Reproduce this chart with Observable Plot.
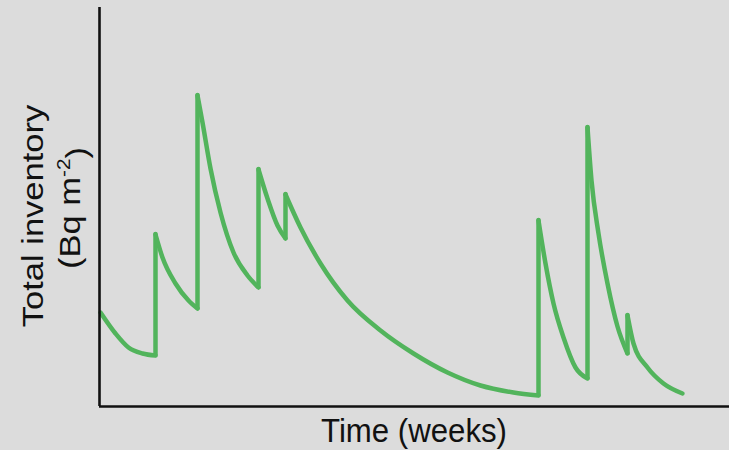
<!DOCTYPE html>
<html>
<head>
<meta charset="utf-8">
<script src="https://cdn.jsdelivr.net/npm/d3@7"></script>
<script src="https://cdn.jsdelivr.net/npm/@observablehq/plot@0.6"></script>
<style>
  html, body { margin: 0; padding: 0; background: #dcdcdc; }
  svg { display: block; }
</style>
</head>
<body>
<div id="chart"></div>
<script>
// Decay segments (time in weeks, inventory in arbitrary Bq m^-2 units)
const segment   = [0,0,0,0,0, 1,1,1,1,1, 2,2,2,2,2,2,2, 3,3,3,3, 4,4,4,4,4,4,4,4,4,4, 5,5,5,5,5,5, 6,6,6,6,6,6, 7,7,7,7,7];
const weeks     = [0.1,1.6,2.9,4.3,5.6, 5.6,6.3,7.6,8.9,9.8, 9.8,10.3,11.1,12.1,13.4,14.8,15.9, 15.9,16.8,17.8,18.6, 18.6,20.1,22.1,24.8,28.1,31.4,34.8,38.1,41.4,43.9, 43.9,44.6,45.4,46.4,47.6,48.8, 48.8,49.2,49.9,50.8,51.8,52.8, 52.8,53.4,54.8,56.4,58.3];
const inventory = [94,73,59,53,51, 172,149,123,106,98, 311,284,238,194,154,131,119, 237,208,181,168, 212,179,143,106,76,53,34,21,14,11, 186,143,103,69,39,28, 279,226,173,123,80,53, 91,63,39,23,13];

// Deposition events (instant jumps)
const jumpWeek = [5.6, 9.8, 15.9, 18.6, 43.9, 48.8, 52.8];
const jumpFrom = [51, 98, 119, 168, 11, 28, 53];
const jumpTo   = [172, 311, 237, 212, 186, 279, 91];

const xLabel = "Time (weeks)";
const yLabel1 = "Total inventory";
const yLabel2 = "(Bq m";
const yLabel2Sup = "-2";

const points = weeks.map((w, i) => ({week: w, value: inventory[i], seg: segment[i]}));
const jumps = jumpWeek.map((w, i) => ({week: w, from: jumpFrom[i], to: jumpTo[i]}));

const green = "#52b45c";

const chart = Plot.plot({
  width: 729,
  height: 450,
  marginLeft: 99,
  marginRight: 0,
  marginTop: 7,
  marginBottom: 44,
  style: {background: "#dcdcdc", fontFamily: "'Liberation Sans', Arial, sans-serif", color: "#111"},
  x: {domain: [0, 63], axis: null},
  y: {domain: [0, 399], axis: null},
  marks: [
    Plot.ruleX(jumps, {x: "week", y1: "from", y2: "to", stroke: green, strokeWidth: 4.5, strokeLinecap: "round"}),
    Plot.line(points, {x: "week", y: "value", z: "seg", curve: "monotone-x", stroke: green, strokeWidth: 4.5, strokeLinecap: "round", strokeLinejoin: "round"}),
    Plot.ruleX([0], {stroke: "#111", strokeWidth: 2.6}),
    Plot.ruleY([0], {stroke: "#111", strokeWidth: 2.6}),
    Plot.text([xLabel], {frameAnchor: "bottom", fontSize: 30, fill: "#111", className: "xlab"}),
    Plot.text([yLabel1], {frameAnchor: "left", fontSize: 30, fill: "#111", className: "ylab1"}),
    Plot.text([yLabel2], {frameAnchor: "left", fontSize: 30, fill: "#111", className: "ylab2"})
  ]
});

const svg = d3.select(chart);
function place(sel, tf) {
  svg.selectAll(sel).each(function() {
    d3.select(this.parentNode).attr("transform", null);
    d3.select(this).attr("x", null).attr("y", null).attr("dy", null)
      .attr("text-anchor", "middle").attr("transform", tf);
  });
}
place(".xlab text", "translate(414,442) scale(1.04,1.13)");
place(".ylab1 text", "translate(43,216) rotate(-90) scale(1.15,1)");
place(".ylab2 text", "translate(80,208) rotate(-90) scale(1.15,1)");
// superscript in unit label
svg.selectAll(".ylab2 text").each(function() {
  const t = d3.select(this);
  t.text(null);
  t.append("tspan").text(yLabel2);
  t.append("tspan").attr("dy", "-0.55em").attr("font-size", "18").text(yLabel2Sup);
  t.append("tspan").attr("dy", "0.55em").text(")");
});

document.getElementById("chart").appendChild(chart);
</script>
</body>
</html>
